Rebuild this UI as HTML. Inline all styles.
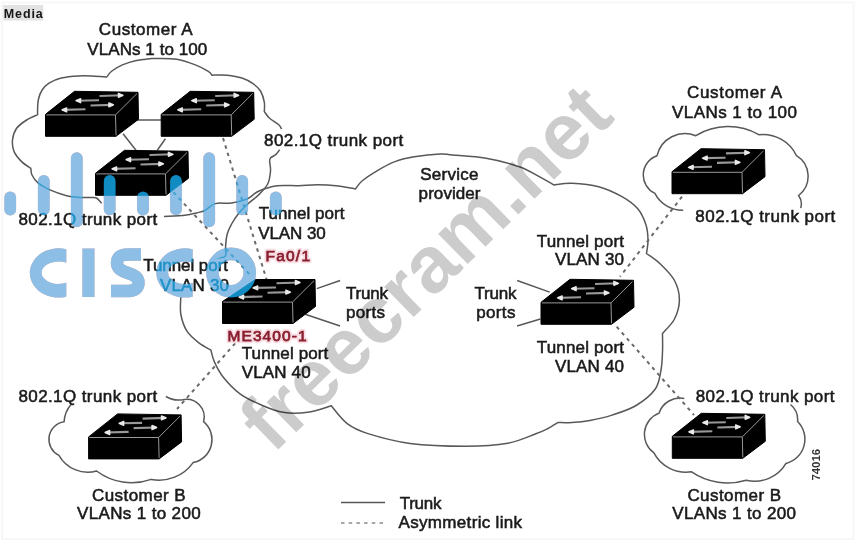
<!DOCTYPE html>
<html><head><meta charset="utf-8"><style>
html,body{margin:0;padding:0;background:#fff;width:858px;height:541px;overflow:hidden}
svg{display:block;position:absolute;left:0;top:0}
.ln{fill:none;stroke:#585858;stroke-width:1.5}
.dl2{fill:none;stroke:#8a8a8a;stroke-width:1.5;stroke-dasharray:3.5 4.2}
.dl{fill:none;stroke:#6a6a6a;stroke-width:2;stroke-dasharray:3.5 4.2}
.sw{fill:#000;stroke:#000;stroke-width:1;stroke-linejoin:round}
.swe{fill:none;stroke:#999;stroke-width:1}
.arr line{stroke:#999;stroke-width:2.1}
.arr .ah{fill:#eaeaea;stroke:#eaeaea;stroke-width:1.4;stroke-linejoin:round}
.tx text{font-family:"Liberation Sans",sans-serif;font-size:17px;fill:#1a1a1a;stroke:#1a1a1a;stroke-width:0.55}
.red text{font-family:"Liberation Sans",sans-serif;font-size:15.5px;fill:#8a1f30;stroke:#8a1f30;stroke-width:0.75}
.red.halo text{fill:#f7dde2;stroke:#f7dde2;stroke-width:4.5;stroke-linejoin:round}
.small{font-family:"Liberation Sans",sans-serif;font-weight:bold;font-size:11.5px;fill:#333}
.wm{font-family:"Liberation Sans",sans-serif;font-weight:bold;font-size:80px;fill:#000;fill-opacity:0.2}
.S{font-family:"Liberation Sans",sans-serif;font-weight:bold;font-size:66px}
.media{position:absolute;left:4px;top:6px;width:40px;height:14px;background:#e2e2e2}
.mediat{position:absolute;left:4.5px;top:4px;font:bold 13px "Liberation Sans",sans-serif;color:#111;line-height:17px}
</style></head><body>
<svg width="858" height="541" viewBox="0 0 858 541">
<defs><clipPath id="c1"><rect x="0" y="200" width="66.3" height="120"/></clipPath><clipPath id="c2"><rect x="150" y="200" width="42.7" height="120"/></clipPath></defs>
<rect width="858" height="541" fill="#fff"/>
<rect x="2" y="2.5" width="851.5" height="536.5" fill="none" stroke="#f7f7f7" stroke-width="2"/>
<rect x="3.3" y="5" width="40" height="15.5" fill="#e2e2e2"/>
<text x="3.8" y="18.3" textLength="39" lengthAdjust="spacing" style="font:bold 12.5px 'Liberation Sans',sans-serif;fill:#151515">Media</text>
<path class="ln" d="M101.7,203.3 C100.8,202.4 98.3,198.8 96.0,197.8 C93.7,196.9 90.7,197.7 88.0,197.6 C85.3,197.5 83.5,197.7 79.9,197.4 C76.3,197.1 71.6,196.9 66.6,195.7 C61.6,194.4 54.6,192.0 49.9,189.9 C45.2,187.8 41.3,185.7 38.3,183.2 C35.3,180.7 33.2,177.5 32.0,175.0 C30.8,172.5 31.0,169.4 30.8,168.3 C29.3,167.2 24.4,164.4 21.6,161.6 C18.8,158.8 15.6,155.2 14.1,151.6 C12.6,148.0 12.1,143.9 12.5,140.0 C12.9,136.1 14.3,131.6 16.6,128.3 C19.0,125.0 23.1,122.3 26.6,120.0 C30.1,117.7 35.8,115.6 37.6,114.7 C37.6,113.5 37.5,110.3 37.6,107.7 C37.8,105.1 37.8,101.9 38.5,99.0 C39.2,96.1 40.2,92.8 42.0,90.2 C43.8,87.6 45.8,85.2 49.0,83.2 C52.2,81.2 56.2,79.2 61.2,78.0 C66.2,76.8 73.2,76.2 78.7,75.9 C84.2,75.6 89.8,76.0 94.4,76.2 C99.1,76.4 104.6,76.9 106.6,77.1 C107.5,76.1 109.3,73.0 111.9,71.0 C114.5,69.0 118.3,66.7 122.4,64.9 C126.5,63.2 131.8,61.5 136.4,60.5 C141.0,59.5 146.4,59.1 150.0,58.7 C153.6,58.4 153.6,58.3 158.0,58.4 C162.4,58.5 170.4,58.2 176.6,59.3 C182.8,60.4 190.0,62.9 195.3,64.9 C200.6,66.9 205.5,69.7 208.3,71.4 C211.1,73.1 211.4,74.6 212.0,75.2 C214.5,75.2 222.0,74.7 227.0,75.2 C232.0,75.7 237.6,76.6 241.9,78.0 C246.2,79.4 249.9,81.4 253.0,83.6 C256.1,85.8 258.6,87.9 260.5,91.0 C262.4,94.1 263.7,98.8 264.3,102.2 C264.9,105.6 264.3,110.0 264.3,111.5 C265.2,112.6 267.2,116.1 269.6,118.3 C272.0,120.5 276.8,123.0 278.8,124.8 C280.8,126.6 281.1,128.3 281.5,129.0"/>
<path class="ln" d="M279.7,149.7 C279.1,150.5 277.5,153.0 276.0,154.4 C274.5,155.8 271.6,156.8 270.5,158.0 C269.4,159.2 269.8,161.2 269.6,161.8 C269.8,163.3 270.8,167.3 270.5,171.0 C270.2,174.7 269.7,180.0 267.7,184.0 C265.7,188.0 261.9,191.6 258.5,195.0 C255.1,198.4 250.7,201.2 247.4,204.3 C244.1,207.4 241.2,210.2 238.6,213.5 C236.0,216.8 233.5,220.4 231.6,224.0 C229.7,227.6 228.0,230.8 227.0,235.0 C226.0,239.2 225.6,246.1 225.5,249.2 C225.4,252.3 226.1,252.9 226.2,253.7 C225.9,254.2 225.7,255.9 224.7,256.6 C223.7,257.3 222.1,257.5 220.3,258.1 C218.5,258.7 215.1,259.7 214.0,260.0"/>
<path class="ln" d="M164.0,216.4 C167.5,216.2 179.6,215.8 185.0,215.2 C190.4,214.6 193.3,213.7 196.6,212.9 C199.9,212.1 201.7,212.1 204.8,210.5 C207.9,208.9 210.8,204.8 215.3,203.6 C219.8,202.3 226.3,203.8 231.6,203.0 C236.9,202.2 242.5,200.9 247.0,199.0 C251.5,197.1 253.5,193.5 258.5,191.3 C263.5,189.1 270.3,186.7 277.0,185.8 C283.7,184.9 291.9,185.9 298.6,185.7 C305.3,185.5 311.1,184.8 317.3,184.8 C323.5,184.8 329.6,185.0 336.0,185.7 C342.4,186.4 352.2,188.4 355.5,188.9 C356.6,187.6 358.4,184.0 362.0,181.0 C365.6,178.0 371.4,174.1 377.0,170.8 C382.6,167.5 389.4,163.7 395.6,161.4 C401.8,159.1 406.9,158.0 414.3,156.8 C421.7,155.6 433.6,154.3 440.0,154.0 C446.4,153.7 445.0,154.3 452.7,155.0 C460.4,155.7 474.9,156.4 486.0,158.3 C497.1,160.2 510.4,163.6 519.3,166.7 C528.2,169.8 533.5,173.6 539.3,176.7 C545.1,179.8 551.5,183.6 554.0,185.0 C557.0,184.7 564.5,183.0 572.0,183.3 C579.5,183.6 590.4,184.5 598.7,186.7 C607.0,188.9 615.5,193.0 622.0,196.7 C628.5,200.4 634.0,204.3 638.0,209.0 C642.0,213.7 644.3,219.8 646.0,225.0 C647.7,230.2 647.9,235.2 648.0,240.0 C648.1,244.8 646.8,251.2 646.5,253.5 C648.8,255.2 655.4,259.2 660.1,263.7 C664.8,268.2 671.3,274.5 674.5,280.5 C677.7,286.5 679.4,293.3 679.4,299.7 C679.4,306.1 677.3,313.4 674.5,319.0 C671.7,324.6 664.5,331.0 662.5,333.4 C662.5,336.5 662.8,345.9 662.5,352.0 C662.2,358.1 662.2,363.8 661.0,370.0 C659.8,376.2 659.4,383.1 655.3,389.0 C651.1,394.9 643.3,401.1 636.1,405.5 C628.9,409.9 619.7,412.6 612.0,415.1 C604.3,417.6 596.7,419.2 590.0,420.5 C583.3,421.8 577.3,422.3 572.0,422.6 C566.7,422.9 560.5,422.4 558.2,422.4 C556.5,423.4 551.7,426.6 548.0,428.5 C544.3,430.4 542.5,431.4 535.8,433.8 C529.1,436.2 519.5,441.1 507.8,443.2 C496.2,445.3 482.2,446.2 465.9,446.2 C449.6,446.2 426.3,445.5 410.0,443.4 C393.7,441.3 378.5,436.9 368.0,433.6 C357.5,430.3 353.3,428.2 347.2,423.6 C341.1,419.0 333.9,408.8 331.3,405.8 C327.3,406.9 315.6,411.2 307.5,412.3 C299.4,413.4 290.7,413.5 283.0,412.3 C275.3,411.1 268.6,408.1 261.4,405.0 C254.2,401.9 246.3,398.4 240.0,393.8 C233.7,389.2 227.8,382.8 223.5,377.5 C219.2,372.2 216.6,366.7 214.5,362.1 C212.4,357.5 211.5,352.1 210.9,350.1 C208.9,348.9 202.9,346.1 198.9,342.9 C194.9,339.7 189.8,335.7 186.8,330.9 C183.8,326.1 181.8,319.6 180.8,314.0 C179.8,308.4 180.8,300.0 180.8,297.2"/>
<path class="ln" d="M683.2,210.2 A30.9,30.9 0 0 1 654.9,193.4 A20.4,20.4 0 0 1 657.0,155.7 A28.7,28.7 0 0 1 695.8,135.7 A62.1,62.1 0 0 1 758.8,134.7 A37.1,37.1 0 0 1 796.5,155.7 A24.1,24.1 0 0 1 798.6,195.5 A14.3,14.3 0 0 1 800.7,208.1"/>
<path class="ln" d="M684.3,398.4 A22.1,22.1 0 0 0 659.1,413.1 A22.8,22.8 0 0 0 653.9,452.9 A36.1,36.1 0 0 0 691.6,471.8 A64.3,64.3 0 0 0 746.2,480.2 A36.3,36.3 0 0 0 786.0,463.4 A25.0,25.0 0 0 0 797.6,421.5 A20.0,20.0 0 0 0 790.5,404.5"/>
<path class="ln" d="M71.5,403.9 A28.7,28.7 0 0 0 64.1,421.7 A17.8,17.8 0 0 0 58.9,455.3 A33.2,33.2 0 0 0 96.6,471.0 A58.3,58.3 0 0 0 151.2,479.4 A41.6,41.6 0 0 0 193.1,462.6 A23.4,23.4 0 0 0 203.6,421.7 A17.8,17.8 0 0 0 182.6,399.7 A23.9,23.9 0 0 1 165.9,396.5"/>
<line class="ln" x1="134.4" y1="120" x2="162.2" y2="120"/>
<line class="ln" x1="123" y1="133.8" x2="136" y2="150.2"/>
<line class="ln" x1="165.4" y1="138.7" x2="157.3" y2="150.2"/>
<line class="ln" x1="316.8" y1="288.6" x2="340.1" y2="280.5"/>
<line class="ln" x1="305.2" y1="314.3" x2="340.1" y2="326"/>
<line class="ln" x1="517.1" y1="280.5" x2="549.7" y2="292.1"/>
<line class="ln" x1="517.1" y1="326" x2="540.4" y2="319"/>
<line class="ln" x1="341" y1="502.6" x2="385" y2="502.6"/>
<line class="dl2" x1="341" y1="523" x2="385" y2="523"/>
<line class="dl" x1="223" y1="138" x2="266.7" y2="280"/>
<line class="dl" x1="163" y1="181" x2="252" y2="277"/>
<line class="dl" x1="245.4" y1="331.8" x2="177" y2="409"/>
<line class="dl" x1="682" y1="196.7" x2="620" y2="276.7"/>
<line class="dl" x1="616.7" y1="326.7" x2="694" y2="415"/>
<path class="sw" d="M45.5,114.3 L74.5,91.3 L138.0,92.3 L138.5,119.3 L116.0,136.3 L45.5,136.3 Z"/><path class="swe" d="M46.3,114.9 L115.5,114.9 L137.0,93.5 M115.5,114.9 L116.0,135.3"/><g class="arr"><line x1="99.5" y1="96.0" x2="122.5" y2="95.3"/><path d="M123.0,95.3 l-4.6,-2 l0,4 z" class="ah"/><line x1="76.5" y1="100.7" x2="99.0" y2="100.3"/><path d="M76.0,100.7 l4.6,-2 l0,4 z" class="ah"/><line x1="90.5" y1="105.5" x2="113.0" y2="104.9"/><path d="M113.5,104.9 l-4.6,-2 l0,4 z" class="ah"/><line x1="62.5" y1="109.9" x2="85.5" y2="109.3"/><path d="M62.0,109.9 l4.6,-2 l0,4 z" class="ah"/></g>
<path class="sw" d="M161.2,114.3 L190.2,91.3 L253.7,92.3 L254.2,119.3 L231.7,136.3 L161.2,136.3 Z"/><path class="swe" d="M162.0,114.9 L231.2,114.9 L252.7,93.5 M231.2,114.9 L231.7,135.3"/><g class="arr"><line x1="215.2" y1="96.0" x2="238.2" y2="95.3"/><path d="M238.7,95.3 l-4.6,-2 l0,4 z" class="ah"/><line x1="192.2" y1="100.7" x2="214.7" y2="100.3"/><path d="M191.7,100.7 l4.6,-2 l0,4 z" class="ah"/><line x1="206.2" y1="105.5" x2="228.7" y2="104.9"/><path d="M229.2,104.9 l-4.6,-2 l0,4 z" class="ah"/><line x1="178.2" y1="109.9" x2="201.2" y2="109.3"/><path d="M177.7,109.9 l4.6,-2 l0,4 z" class="ah"/></g>
<path class="sw" d="M95.5,173.3 L124.5,150.3 L188.0,151.3 L188.5,178.3 L166.0,195.3 L95.5,195.3 Z"/><path class="swe" d="M96.3,173.9 L165.5,173.9 L187.0,152.5 M165.5,173.9 L166.0,194.3"/><g class="arr"><line x1="149.5" y1="155.0" x2="172.5" y2="154.3"/><path d="M173.0,154.3 l-4.6,-2 l0,4 z" class="ah"/><line x1="126.5" y1="159.7" x2="149.0" y2="159.3"/><path d="M126.0,159.7 l4.6,-2 l0,4 z" class="ah"/><line x1="140.5" y1="164.5" x2="163.0" y2="163.9"/><path d="M163.5,163.9 l-4.6,-2 l0,4 z" class="ah"/><line x1="112.5" y1="168.9" x2="135.5" y2="168.3"/><path d="M112.0,168.9 l4.6,-2 l0,4 z" class="ah"/></g>
<path class="sw" d="M672.0,171.7 L701.0,148.7 L764.5,149.7 L765.0,176.7 L742.5,193.7 L672.0,193.7 Z"/><path class="swe" d="M672.8,172.3 L742.0,172.3 L763.5,150.9 M742.0,172.3 L742.5,192.7"/><g class="arr"><line x1="726.0" y1="153.4" x2="749.0" y2="152.7"/><path d="M749.5,152.7 l-4.6,-2 l0,4 z" class="ah"/><line x1="703.0" y1="158.1" x2="725.5" y2="157.7"/><path d="M702.5,158.1 l4.6,-2 l0,4 z" class="ah"/><line x1="717.0" y1="162.9" x2="739.5" y2="162.3"/><path d="M740.0,162.3 l-4.6,-2 l0,4 z" class="ah"/><line x1="689.0" y1="167.3" x2="712.0" y2="166.7"/><path d="M688.5,167.3 l4.6,-2 l0,4 z" class="ah"/></g>
<path class="sw" d="M541.0,302.3 L570.0,279.3 L633.5,280.3 L634.0,307.3 L611.5,324.3 L541.0,324.3 Z"/><path class="swe" d="M541.8,302.9 L611.0,302.9 L632.5,281.5 M611.0,302.9 L611.5,323.3"/><g class="arr"><line x1="595.0" y1="284.0" x2="618.0" y2="283.3"/><path d="M618.5,283.3 l-4.6,-2 l0,4 z" class="ah"/><line x1="572.0" y1="288.7" x2="594.5" y2="288.3"/><path d="M571.5,288.7 l4.6,-2 l0,4 z" class="ah"/><line x1="586.0" y1="293.5" x2="608.5" y2="292.9"/><path d="M609.0,292.9 l-4.6,-2 l0,4 z" class="ah"/><line x1="558.0" y1="297.9" x2="581.0" y2="297.3"/><path d="M557.5,297.9 l4.6,-2 l0,4 z" class="ah"/></g>
<path class="sw" d="M672.3,436.3 L701.3,413.3 L764.8,414.3 L765.3,441.3 L742.8,458.3 L672.3,458.3 Z"/><path class="swe" d="M673.1,436.9 L742.3,436.9 L763.8,415.5 M742.3,436.9 L742.8,457.3"/><g class="arr"><line x1="726.3" y1="418.0" x2="749.3" y2="417.3"/><path d="M749.8,417.3 l-4.6,-2 l0,4 z" class="ah"/><line x1="703.3" y1="422.7" x2="725.8" y2="422.3"/><path d="M702.8,422.7 l4.6,-2 l0,4 z" class="ah"/><line x1="717.3" y1="427.5" x2="739.8" y2="426.9"/><path d="M740.3,426.9 l-4.6,-2 l0,4 z" class="ah"/><line x1="689.3" y1="431.9" x2="712.3" y2="431.3"/><path d="M688.8,431.9 l4.6,-2 l0,4 z" class="ah"/></g>
<path class="sw" d="M88.6,436.9 L117.6,413.9 L181.1,414.9 L181.6,441.9 L159.1,458.9 L88.6,458.9 Z"/><path class="swe" d="M89.4,437.5 L158.6,437.5 L180.1,416.1 M158.6,437.5 L159.1,457.9"/><g class="arr"><line x1="142.6" y1="418.6" x2="165.6" y2="417.9"/><path d="M166.1,417.9 l-4.6,-2 l0,4 z" class="ah"/><line x1="119.6" y1="423.3" x2="142.1" y2="422.9"/><path d="M119.1,423.3 l4.6,-2 l0,4 z" class="ah"/><line x1="133.6" y1="428.1" x2="156.1" y2="427.5"/><path d="M156.6,427.5 l-4.6,-2 l0,4 z" class="ah"/><line x1="105.6" y1="432.5" x2="128.6" y2="431.9"/><path d="M105.1,432.5 l4.6,-2 l0,4 z" class="ah"/></g>
<path class="sw" d="M222.5,301.5 L255.5,279.5 L315.0,279.5 L315.5,306.5 L293.0,323.5 L222.5,323.5 Z"/><path class="swe" d="M223.3,302.1 L292.5,302.1 L314.0,280.7 M292.5,302.1 L293.0,322.5"/><g class="arr"><line x1="276.5" y1="283.2" x2="299.5" y2="282.5"/><path d="M300.0,282.5 l-4.6,-2 l0,4 z" class="ah"/><line x1="253.5" y1="287.9" x2="276.0" y2="287.5"/><path d="M253.0,287.9 l4.6,-2 l0,4 z" class="ah"/><line x1="267.5" y1="292.7" x2="290.0" y2="292.1"/><path d="M290.5,292.1 l-4.6,-2 l0,4 z" class="ah"/><line x1="239.5" y1="297.1" x2="262.5" y2="296.5"/><path d="M239.0,297.1 l4.6,-2 l0,4 z" class="ah"/></g>
<rect x="141" y="258.5" width="90" height="37.5" fill="#fff"/>
<g class="tx"><text x="98.8" y="34.6" textLength="93.8" lengthAdjust="spacing">Customer A</text><text x="87.3" y="55.0" textLength="120.0" lengthAdjust="spacing">VLANs 1 to 100</text><text x="264.0" y="145.5" textLength="139.3" lengthAdjust="spacing">802.1Q trunk port</text><text x="18.4" y="224.6" textLength="138.9" lengthAdjust="spacing">802.1Q trunk port</text><text x="420.2" y="179.9" textLength="58.2" lengthAdjust="spacing">Service</text><text x="418.6" y="199.3" textLength="61.9" lengthAdjust="spacing">provider</text><text x="258.7" y="218.6" textLength="85.7" lengthAdjust="spacing">Tunnel port</text><text x="258.2" y="238.5" textLength="67.6" lengthAdjust="spacing">VLAN 30</text><text x="143.2" y="270.8" textLength="84.8" lengthAdjust="spacing">Tunnel port</text><text x="160.0" y="291.0" textLength="69.0" lengthAdjust="spacing">VLAN 30</text><text x="345.9" y="299.1" textLength="42.0" lengthAdjust="spacing">Trunk</text><text x="345.9" y="317.8" textLength="39.1" lengthAdjust="spacing">ports</text><text x="241.7" y="359.3" textLength="86.6" lengthAdjust="spacing">Tunnel port</text><text x="241.7" y="378.3" textLength="69.0" lengthAdjust="spacing">VLAN 40</text><text x="536.7" y="247.3" textLength="87.3" lengthAdjust="spacing">Tunnel port</text><text x="555.0" y="265.0" textLength="69.0" lengthAdjust="spacing">VLAN 30</text><text x="474.6" y="299.1" textLength="41.9" lengthAdjust="spacing">Trunk</text><text x="476.3" y="317.8" textLength="39.1" lengthAdjust="spacing">ports</text><text x="536.7" y="353.3" textLength="87.3" lengthAdjust="spacing">Tunnel port</text><text x="555.0" y="371.7" textLength="69.0" lengthAdjust="spacing">VLAN 40</text><text x="687.0" y="98.3" textLength="95.0" lengthAdjust="spacing">Customer A</text><text x="672.0" y="118.3" textLength="125.0" lengthAdjust="spacing">VLANs 1 to 100</text><text x="695.3" y="221.7" textLength="140.0" lengthAdjust="spacing">802.1Q trunk port</text><text x="695.7" y="401.8" textLength="138.8" lengthAdjust="spacing">802.1Q trunk port</text><text x="687.4" y="500.5" textLength="93.6" lengthAdjust="spacing">Customer B</text><text x="672.3" y="518.9" textLength="123.7" lengthAdjust="spacing">VLANs 1 to 200</text><text x="18.4" y="401.8" textLength="138.8" lengthAdjust="spacing">802.1Q trunk port</text><text x="92.0" y="500.5" textLength="93.6" lengthAdjust="spacing">Customer B</text><text x="77.0" y="518.9" textLength="123.7" lengthAdjust="spacing">VLANs 1 to 200</text><text x="399.8" y="508.7" textLength="41.6" lengthAdjust="spacing">Trunk</text><text x="398.5" y="527.8" textLength="123.6" lengthAdjust="spacing">Asymmetric link</text></g>
<g class="red halo"><text x="265.5" y="260.8" textLength="44.5" lengthAdjust="spacing">Fa0/1</text><text x="227.5" y="340.8" textLength="79" lengthAdjust="spacing">ME3400-1</text></g>
<g class="red"><text x="265.5" y="260.8" textLength="44.5" lengthAdjust="spacing">Fa0/1</text><text x="227.5" y="340.8" textLength="79" lengthAdjust="spacing">ME3400-1</text></g>
<text class="small" transform="translate(820,480.6) rotate(-90)" textLength="31.8" lengthAdjust="spacingAndGlyphs">74016</text>
<text class="wm" transform="translate(273.1,454.8) rotate(-44.4)">freecram.net</text>
<g style="mix-blend-mode:multiply" fill="rgb(132,111,149)"><rect x="4.3" y="191.6" width="11.8" height="23.9" rx="5.9"/><rect x="37.9" y="175.0" width="11.8" height="40.2" rx="5.9"/><rect x="70.9" y="152.2" width="11.8" height="75.1" rx="5.9"/><rect x="103.8" y="175.0" width="11.8" height="40.2" rx="5.9"/><rect x="137.1" y="191.6" width="11.8" height="23.9" rx="5.9"/><rect x="170.1" y="175.0" width="11.8" height="40.2" rx="5.9"/><rect x="203.3" y="152.2" width="11.8" height="75.1" rx="5.9"/><rect x="236.3" y="175.0" width="11.8" height="40.2" rx="5.9"/><rect x="269.9" y="191.6" width="11.8" height="23.9" rx="5.9"/><rect x="82.4" y="248.5" width="12.1" height="48.5"/><path fill-rule="evenodd" clip-path="url(#c1)" d="M58.6,248.3 a28.8,24.65 0 1 0 0.01,0 Z M58.6,261.4 a17,11.3 0 1 0 0.01,0 Z"/><path fill-rule="evenodd" clip-path="url(#c2)" d="M185.1,248.3 a28.8,24.65 0 1 0 0.01,0 Z M185.1,261.4 a17,11.3 0 1 0 0.01,0 Z"/><g fill="none" stroke="rgb(132,111,149)"><circle cx="231.1" cy="272.6" r="18.7" stroke-width="12.6"/><path stroke-width="12.5" d="M141,254.5 L128,254.5 C119.5,254.5 117,258 117,263 C117,269 122,271 128,273 C134,275 138.5,277 138.5,283 C138.5,288 135,291 127,291 L111,291"/></g></g>
<g style="mix-blend-mode:screen" fill="rgb(16,140,195)"><rect x="4.3" y="191.6" width="11.8" height="23.9" rx="5.9"/><rect x="37.9" y="175.0" width="11.8" height="40.2" rx="5.9"/><rect x="70.9" y="152.2" width="11.8" height="75.1" rx="5.9"/><rect x="103.8" y="175.0" width="11.8" height="40.2" rx="5.9"/><rect x="137.1" y="191.6" width="11.8" height="23.9" rx="5.9"/><rect x="170.1" y="175.0" width="11.8" height="40.2" rx="5.9"/><rect x="203.3" y="152.2" width="11.8" height="75.1" rx="5.9"/><rect x="236.3" y="175.0" width="11.8" height="40.2" rx="5.9"/><rect x="269.9" y="191.6" width="11.8" height="23.9" rx="5.9"/><rect x="82.4" y="248.5" width="12.1" height="48.5"/><path fill-rule="evenodd" clip-path="url(#c1)" d="M58.6,248.3 a28.8,24.65 0 1 0 0.01,0 Z M58.6,261.4 a17,11.3 0 1 0 0.01,0 Z"/><path fill-rule="evenodd" clip-path="url(#c2)" d="M185.1,248.3 a28.8,24.65 0 1 0 0.01,0 Z M185.1,261.4 a17,11.3 0 1 0 0.01,0 Z"/><g fill="none" stroke="rgb(16,140,195)"><circle cx="231.1" cy="272.6" r="18.7" stroke-width="12.6"/><path stroke-width="12.5" d="M141,254.5 L128,254.5 C119.5,254.5 117,258 117,263 C117,269 122,271 128,273 C134,275 138.5,277 138.5,283 C138.5,288 135,291 127,291 L111,291"/></g></g>
</svg>
</body></html>
